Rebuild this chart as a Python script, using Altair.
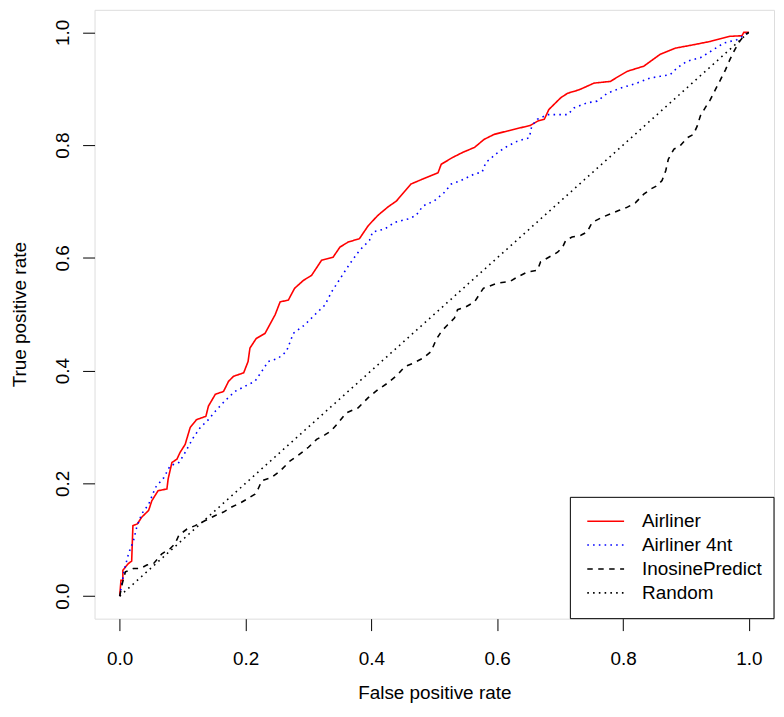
import altair as alt
import pandas as pd

series_names = ["Airliner", "Airliner 4nt", "InosinePredict", "Random"]

airliner_fpr = [0, 0.002, 0.005, 0.005, 0.014, 0.019, 0.021, 0.028, 0.035, 0.046, 0.051, 0.061, 0.075,
                0.077, 0.083, 0.091, 0.096, 0.104, 0.112, 0.122, 0.137, 0.141, 0.152, 0.165, 0.173, 0.181,
                0.197, 0.204, 0.207, 0.217, 0.231, 0.247, 0.255, 0.268, 0.278, 0.292, 0.305, 0.321, 0.339,
                0.35, 0.363, 0.381, 0.395, 0.41, 0.426, 0.44, 0.463, 0.482, 0.506, 0.511, 0.529, 0.545,
                0.564, 0.579, 0.595, 0.616, 0.638, 0.653, 0.665, 0.675, 0.682, 0.701, 0.712, 0.73, 0.754,
                0.78, 0.793, 0.807, 0.833, 0.859, 0.883, 0.912, 0.939, 0.97, 0.989, 0.992, 1.0]
airliner_tpr = [0, 0.028, 0.028, 0.046, 0.058, 0.062, 0.125, 0.128, 0.14, 0.152, 0.169, 0.187, 0.19,
                0.208, 0.237, 0.243, 0.255, 0.269, 0.299, 0.313, 0.319, 0.337, 0.358, 0.363, 0.381, 0.39,
                0.396, 0.416, 0.44, 0.457, 0.466, 0.499, 0.522, 0.525, 0.546, 0.56, 0.569, 0.596, 0.601,
                0.619, 0.628, 0.634, 0.657, 0.675, 0.69, 0.701, 0.731, 0.74, 0.751, 0.766, 0.778, 0.787,
                0.796, 0.81, 0.819, 0.825, 0.831, 0.835, 0.843, 0.846, 0.863, 0.884, 0.892, 0.898, 0.91,
                0.913, 0.922, 0.931, 0.94, 0.961, 0.972, 0.978, 0.984, 0.993, 0.994, 1.0, 1.0]

airliner4nt_fpr = [0, 0.007, 0.014, 0.022, 0.027, 0.035, 0.046, 0.057, 0.07, 0.08, 0.094, 0.101, 0.117,
                   0.128, 0.141, 0.152, 0.167, 0.183, 0.204, 0.215, 0.226, 0.236, 0.252, 0.265, 0.276, 0.294,
                   0.31, 0.326, 0.337, 0.352, 0.366, 0.381, 0.397, 0.402, 0.421, 0.437, 0.458, 0.471, 0.482,
                   0.5, 0.516, 0.527, 0.542, 0.564, 0.576, 0.582, 0.601, 0.616, 0.632, 0.651, 0.655, 0.664,
                   0.68, 0.712, 0.722, 0.743, 0.759, 0.775, 0.796, 0.822, 0.843, 0.859, 0.875, 0.886, 0.902,
                   0.923, 0.939, 0.96, 0.981, 0.997, 1.0]
airliner4nt_tpr = [0, 0.045, 0.075, 0.099, 0.122, 0.146, 0.163, 0.193, 0.21, 0.231, 0.237, 0.249, 0.281,
                   0.299, 0.313, 0.328, 0.346, 0.363, 0.375, 0.381, 0.399, 0.416, 0.422, 0.434, 0.466, 0.481,
                   0.499, 0.516, 0.54, 0.566, 0.59, 0.613, 0.631, 0.646, 0.651, 0.663, 0.669, 0.675, 0.692,
                   0.701, 0.716, 0.731, 0.737, 0.749, 0.752, 0.769, 0.787, 0.798, 0.807, 0.813, 0.834, 0.846,
                   0.854, 0.854, 0.866, 0.875, 0.878, 0.892, 0.901, 0.91, 0.919, 0.922, 0.925, 0.937, 0.949,
                   0.955, 0.966, 0.981, 0.987, 0.998, 1.0]

inosine_fpr = [0, 0.004, 0.009, 0.022, 0.033, 0.043, 0.054, 0.067, 0.08, 0.088, 0.094, 0.107, 0.12, 0.136,
               0.152, 0.165, 0.178, 0.193, 0.202, 0.215, 0.22, 0.226, 0.241, 0.255, 0.271, 0.284, 0.3, 0.313,
               0.326, 0.336, 0.347, 0.36, 0.379, 0.395, 0.41, 0.426, 0.442, 0.453, 0.466, 0.482, 0.495, 0.503,
               0.511, 0.521, 0.532, 0.537, 0.55, 0.564, 0.578, 0.6, 0.62, 0.632, 0.648, 0.664, 0.669, 0.682,
               0.696, 0.704, 0.709, 0.719, 0.733, 0.743, 0.751, 0.767, 0.78, 0.793, 0.807, 0.82, 0.833, 0.844,
               0.854, 0.862, 0.868, 0.872, 0.881, 0.891, 0.902, 0.912, 0.918, 0.923, 0.931, 0.939, 0.947, 0.955,
               0.963, 0.97, 0.978, 0.986, 0.994, 1.0]
inosine_tpr = [0, 0.022, 0.043, 0.049, 0.049, 0.055, 0.058, 0.075, 0.084, 0.093, 0.108, 0.119, 0.125, 0.134,
               0.143, 0.149, 0.158, 0.166, 0.172, 0.181, 0.19, 0.205, 0.21, 0.222, 0.24, 0.25, 0.264, 0.278,
               0.286, 0.293, 0.307, 0.325, 0.334, 0.352, 0.366, 0.378, 0.393, 0.407, 0.413, 0.422, 0.434, 0.455,
               0.469, 0.481, 0.493, 0.508, 0.513, 0.522, 0.546, 0.555, 0.558, 0.566, 0.575, 0.578, 0.593, 0.601,
               0.61, 0.619, 0.631, 0.637, 0.64, 0.646, 0.663, 0.672, 0.678, 0.684, 0.69, 0.698, 0.713, 0.722,
               0.728, 0.737, 0.755, 0.775, 0.793, 0.799, 0.813, 0.819, 0.834, 0.852, 0.867, 0.881, 0.899, 0.916,
               0.934, 0.952, 0.97, 0.985, 0.996, 1.0]

random_fpr = [0, 1]
random_tpr = [0, 1]

tick_values = [0.0, 0.2, 0.4, 0.6, 0.8, 1.0]

rows = []
for name, fpr, tpr in zip(series_names,
                          [airliner_fpr, airliner4nt_fpr, inosine_fpr, random_fpr],
                          [airliner_tpr, airliner4nt_tpr, inosine_tpr, random_tpr]):
    for i, (a, b) in enumerate(zip(fpr, tpr)):
        rows.append({"series": name, "fpr": a, "tpr": b, "idx": i})
df = pd.DataFrame(rows)

colors = ["#FF0000", "#0000FF", "#000000", "#000000"]
dashes = [[1, 0], [1.6, 4.2], [5.5, 5.5], [1.6, 4.2]]

FONT = "Liberation Sans"
xscale = alt.Scale(domain=[-0.04, 1.04], nice=False, zero=False)
yscale = alt.Scale(domain=[-0.04, 1.04], nice=False, zero=False)
color_enc = alt.Color("series:N", scale=alt.Scale(domain=series_names, range=colors), legend=None)
dash_enc = alt.StrokeDash("series:N", scale=alt.Scale(domain=series_names, range=dashes), legend=None)

x_axis = alt.Axis(values=tick_values, format=".1f", title="False positive rate", grid=False, domain=False,
                  tickSize=12, tickColor="black", labelFontSize=19, labelColor="black", labelPadding=19,
                  titleFontSize=19, titleFontWeight="normal", titleColor="black", titleY=74,
                  titleBaseline="middle", labelFont=FONT, titleFont=FONT)
y_axis = alt.Axis(values=tick_values, format=".1f", title="True positive rate", grid=False, domain=False,
                  tickSize=12, tickColor="black", labelFontSize=19, labelColor="black", labelPadding=10,
                  labelAngle=270, titleFontSize=19, titleFontWeight="normal", titleColor="black",
                  titleX=-75, titleBaseline="middle", titleAngle=270, labelFont=FONT, titleFont=FONT)

layers = []
for name in series_names:
    layers.append(
        alt.Chart(df).transform_filter(alt.datum.series == name).mark_line(strokeWidth=1.6, strokeCap="butt").encode(
            x=alt.X("fpr:Q", scale=xscale, axis=x_axis),
            y=alt.Y("tpr:Q", scale=yscale, axis=y_axis),
            color=color_enc,
            strokeDash=dash_enc,
            order="idx:Q",
        )
    )

leg_df = pd.DataFrame({"series": series_names})
box_df = pd.DataFrame({"x": [0.7163], "x2": [1.04], "y": [-0.04], "y2": [0.1752]})

legend_box = alt.Chart(box_df).mark_rect(fill="white", stroke="black", strokeWidth=1).encode(
    x=alt.X("x:Q", scale=xscale), x2="x2:Q", y=alt.Y("y:Q", scale=yscale), y2="y2:Q"
)

legend_base = alt.Chart(leg_df).transform_window(row="row_number()").transform_calculate(
    ly="0.1329 - 0.0424 * (datum.row - 1)", lx1="0.7432", lx2="0.8017", tx="0.8302"
)
legend_lines = legend_base.mark_rule(strokeWidth=1.6, strokeCap="butt").encode(
    x=alt.X("lx1:Q", scale=xscale), x2="lx2:Q", y=alt.Y("ly:Q", scale=yscale),
    color=color_enc, strokeDash=dash_enc,
)
legend_text = legend_base.mark_text(align="left", baseline="middle", fontSize=19, font=FONT, color="black").encode(
    x=alt.X("tx:Q", scale=xscale), y=alt.Y("ly:Q", scale=yscale), text="series:N"
)

chart = alt.layer(*layers, legend_box, legend_lines, legend_text).properties(
    width=683, height=612,
    autosize=alt.AutoSizeParams(type="none"),
    padding={"left": 87, "top": 0, "right": 2, "bottom": 89},
).configure_view(stroke="black", strokeWidth=1).configure(font=FONT)

chart.save("out.html", embed_options={"renderer": "svg", "actions": False})
